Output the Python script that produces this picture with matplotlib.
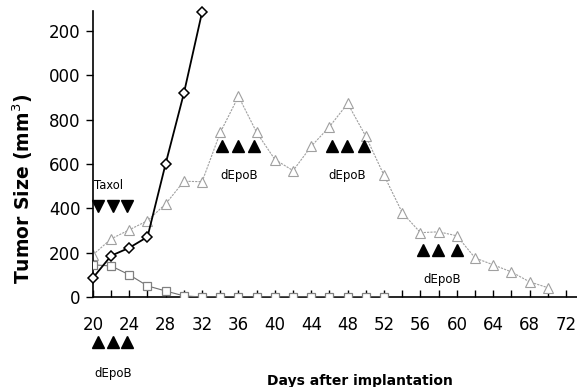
import matplotlib
matplotlib.use("Agg")
import matplotlib.pyplot as plt

plt.rcParams['font.family'] = ['DejaVu Sans']

# Data
days_diamond = [20, 22, 24, 26, 28, 30, 32]
size_diamond = [86, 186, 222, 271, 602, 919, 1285]

days_square = [20, 22, 24, 26, 28, 30, 32, 34, 36, 38, 40, 42, 44, 46, 48, 50, 52]
size_square = [145, 140, 100, 50, 27, 5, 0, 0, 0, 0, 0, 0, 0, 0, 0, 0, 0]

days_tri = [20, 22, 24, 26, 28, 30, 32, 34, 36, 38, 40, 42, 44, 46, 48, 50,
            52, 54, 56, 58, 60, 62, 64, 66, 68, 70]
size_tri = [190, 262, 303, 344, 420, 522, 520, 742, 905, 742, 620, 570, 680, 768,
            873, 724, 548, 380, 290, 294, 276, 176, 145, 113, 68, 42]

taxol_days = [20.6, 22.2, 23.8]
taxol_level = 412
# (arrow days, arrow level, label day, label level)
depob_groups = [([20.6, 22.2, 23.8], -205, 22.2, -345),
                ([34.2, 35.9, 37.7], 680, 36.1, 550),
                ([46.3, 47.9, 49.8], 680, 47.9, 550),
                ([56.3, 57.9, 60.0], 213, 58.4, 80)]

xticks_major = [20, 24, 28, 32, 36, 40, 44, 48, 52, 56, 60, 64, 68, 72]
yticks = [0, 200, 400, 600, 800, 1000, 1200]
ytick_labels = ['0', '200', '400', '600', '800', '000', '200']

fig = plt.figure(figsize=(5.77, 3.87), dpi=100)
ax = fig.add_axes([0.161, 0.2326, 0.839, 0.739])

ax.plot(days_tri, size_tri, color='#a0a0a0', lw=0.8, ls=(0, (2, 1)),
        marker='^', ms=7, mfc='white', mec='#a0a0a0', mew=0.8, zorder=2)
ax.plot(days_square, size_square, color='#707070', lw=0.8,
        marker='s', ms=6.2, mfc='white', mec='#808080', mew=0.9, zorder=3)
ax.plot(days_diamond, size_diamond, color='black', lw=1.3,
        marker='D', ms=5.6, mfc='white', mec='black', mew=1.1, zorder=4, clip_on=False)

# Taxol markers
ax.plot(taxol_days, [taxol_level] * len(taxol_days), ls='none', marker='v', ms=9,
        color='black', clip_on=False)
ax.text(20.1, 505, 'Taxol', fontsize=8.3, ha='left', va='center')

# dEpoB markers
for xs, y, tx, ty in depob_groups:
    ax.plot(xs, [y] * len(xs), ls='none', marker='^', ms=9, color='black', clip_on=False)
    ax.text(tx, ty, 'dEpoB', fontsize=8.5, ha='center', va='center', clip_on=False)

ax.set_xlim(20, 73.2)
ax.set_ylim(0, 1290)
ax.set_xticks(xticks_major)
ax.set_xticks(list(range(20, 73, 2)), minor=True)
ax.set_yticks(yticks)
ax.set_yticklabels(ytick_labels)
ax.tick_params(axis='x', which='both', direction='in', length=5, width=1, labelsize=12, pad=14)
ax.tick_params(axis='y', direction='out', length=5, width=1, labelsize=12, pad=4)
for s in ['top', 'right']:
    ax.spines[s].set_visible(False)
for s in ['left', 'bottom']:
    ax.spines[s].set_linewidth(1.2)

fig.text(0.040, 0.512, 'Tumor Size (mm$^3$)', rotation=90, fontsize=13.5,
         fontweight='bold', ha='center', va='center')
fig.text(0.624, 0.006, 'Days after implantation', fontsize=10,
         fontweight='bold', ha='center', va='baseline')

fig.savefig('out.png', dpi=100)
